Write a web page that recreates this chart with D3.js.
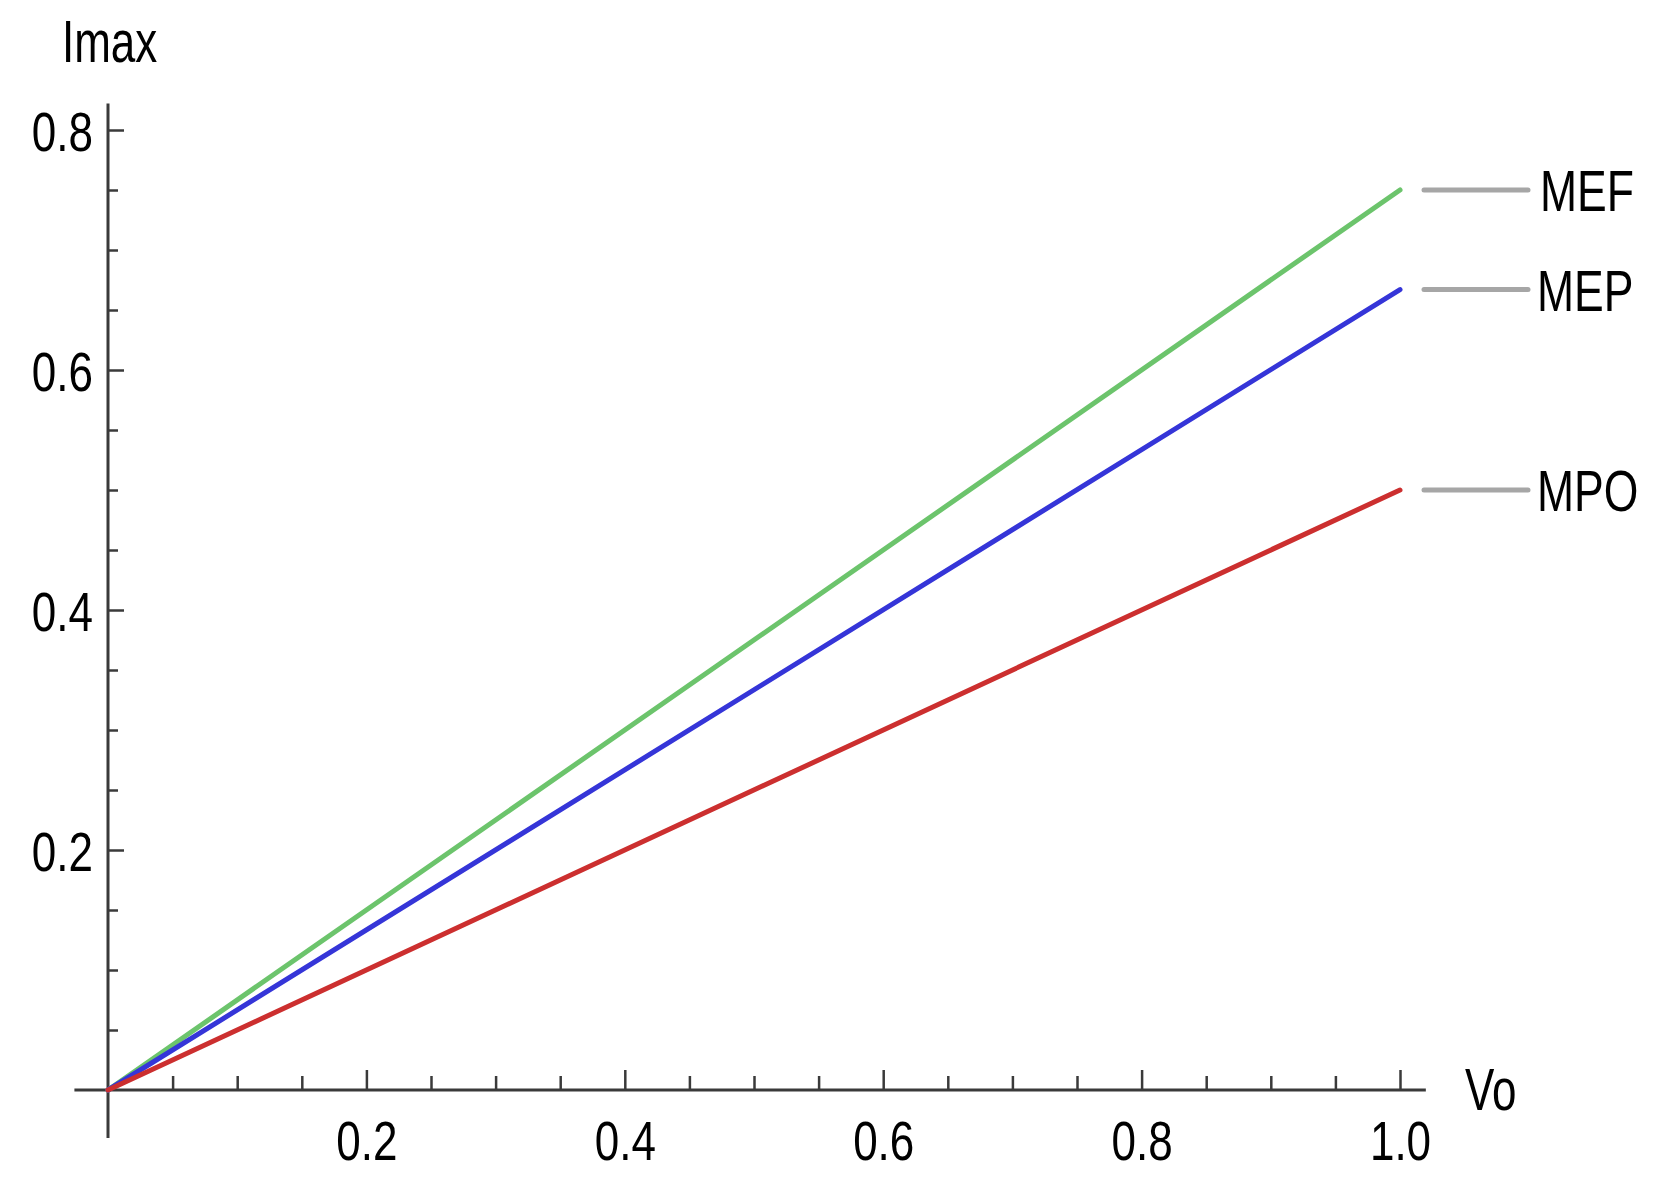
<!DOCTYPE html>
<html>
<head>
<meta charset="utf-8">
<script src="https://cdn.jsdelivr.net/npm/d3@7"></script>
<style>
  html, body { margin: 0; padding: 0; background: #fff; }
  svg { display: block; }
  text { font-family: "Liberation Sans", Arial, sans-serif; fill: #000; }
</style>
</head>
<body>
<svg id="chart" width="1659" height="1183"></svg>
<script>
// ---- data ----
const vo = [0, 1];
const seriesNames = ["MEF", "MEP", "MPO"];
const mefValues = [0, 0.75];
const mepValues = [0, 0.667];
const mpoValues = [0, 0.5];
const seriesColors = ["#6cc46c", "#3535d8", "#cc2f2f"];
const xMajorTicks = [0.2, 0.4, 0.6, 0.8, 1.0];
const xTickLabels = ["0.2", "0.4", "0.6", "0.8", "1.0"];
const xMinorTicks = [0.05, 0.1, 0.15, 0.25, 0.3, 0.35, 0.45, 0.5, 0.55, 0.65, 0.7, 0.75, 0.85, 0.9, 0.95];
const yMajorTicks = [0.2, 0.4, 0.6, 0.8];
const yTickLabels = ["0.2", "0.4", "0.6", "0.8"];
const yMinorTicks = [0.05, 0.1, 0.15, 0.25, 0.3, 0.35, 0.45, 0.5, 0.55, 0.65, 0.7, 0.75];
const xAxisLabel = "Vo";
const yAxisLabel = "Imax";

const series = [mefValues, mepValues, mpoValues].map((vals, i) => ({
  name: seriesNames[i], color: seriesColors[i],
  points: vo.map((v, j) => [v, vals[j]])
}));

// ---- layout ----
const svg = d3.select("#chart");
const x = d3.scaleLinear().domain([0, 1]).range([108, 1400]);
const y = d3.scaleLinear().domain([0, 0.8]).range([1090, 130]);
const axisColor = "#3a3a3a";
const FS = 44;       // font size
const SY = 1.28;     // vertical stretch of glyphs (reference text is tall/condensed)

// axis lines
svg.append("line")
  .attr("x1", x(-0.026)).attr("x2", x(1.02))
  .attr("y1", y(0)).attr("y2", y(0))
  .attr("stroke", axisColor).attr("stroke-width", 3);
svg.append("line")
  .attr("x1", x(0)).attr("x2", x(0))
  .attr("y1", y(-0.04)).attr("y2", y(0.822))
  .attr("stroke", axisColor).attr("stroke-width", 3);

// x minor ticks
const gxMinor = svg.append("g").attr("transform", `translate(0,${y(0)})`)
  .call(d3.axisBottom(x).tickValues(xMinorTicks).tickSizeInner(-14).tickSizeOuter(0).tickFormat(""));
// x major ticks
const gx = svg.append("g").attr("transform", `translate(0,${y(0)})`)
  .call(d3.axisBottom(x).tickValues(xMajorTicks).tickSizeInner(-20).tickSizeOuter(0)
    .tickFormat((d, i) => xTickLabels[i]));
// y minor ticks
const gyMinor = svg.append("g").attr("transform", `translate(${x(0)},0)`)
  .call(d3.axisLeft(y).tickValues(yMinorTicks).tickSizeInner(-10).tickSizeOuter(0).tickFormat(""));
// y major ticks
const gy = svg.append("g").attr("transform", `translate(${x(0)},0)`)
  .call(d3.axisLeft(y).tickValues(yMajorTicks).tickSizeInner(-16).tickSizeOuter(0)
    .tickFormat((d, i) => yTickLabels[i]));

[gxMinor, gx, gyMinor, gy].forEach(g => {
  g.select(".domain").remove();
  g.selectAll(".tick line").attr("stroke", axisColor).attr("stroke-width", 2.5);
});

gx.selectAll(".tick text")
  .attr("x", 0).attr("y", 0).attr("dy", 0)
  .attr("transform", `translate(0,70) scale(1,${SY})`)
  .attr("font-size", FS).attr("fill", "#000")
  .attr("font-family", "Liberation Sans, Arial, sans-serif")
  .attr("text-anchor", "middle");

gy.selectAll(".tick text")
  .attr("x", 0).attr("y", 0).attr("dy", 0)
  .attr("transform", `translate(-15,20) scale(1,${SY})`)
  .attr("font-size", FS).attr("fill", "#000")
  .attr("font-family", "Liberation Sans, Arial, sans-serif")
  .attr("text-anchor", "end");

// series lines
const line = d3.line().x(d => x(d[0])).y(d => y(d[1]));
svg.append("g").selectAll("path").data(series).join("path")
  .attr("d", d => line(d.points))
  .attr("fill", "none")
  .attr("stroke", d => d.color)
  .attr("stroke-width", 5)
  .attr("stroke-linecap", "round");

// legend (labels at line ends)
const leg = svg.append("g").selectAll("g").data(series).join("g")
  .attr("transform", d => `translate(${x(1)},${y(d.points[d.points.length - 1][1])})`);
leg.append("line")
  .attr("x1", 24).attr("x2", 128).attr("y1", 0).attr("y2", 0)
  .attr("stroke", "#a6a6a6").attr("stroke-width", 5).attr("stroke-linecap", "round");
leg.append("text")
  .attr("transform", d => `translate(${d.name === "MEF" ? 140 : 137},21) scale(1,${SY + 0.03})`)
  .attr("font-size", FS + 0.5)
  .text(d => d.name);

// axis labels
svg.append("text")
  .attr("transform", `translate(62,62) scale(1,${SY + 0.05})`)
  .attr("font-size", FS)
  .text(yAxisLabel);
svg.append("text")
  .attr("transform", `translate(1465,1110) scale(1,${SY + 0.05})`)
  .attr("font-size", FS)
  .text(xAxisLabel);
</script>
</body>
</html>
